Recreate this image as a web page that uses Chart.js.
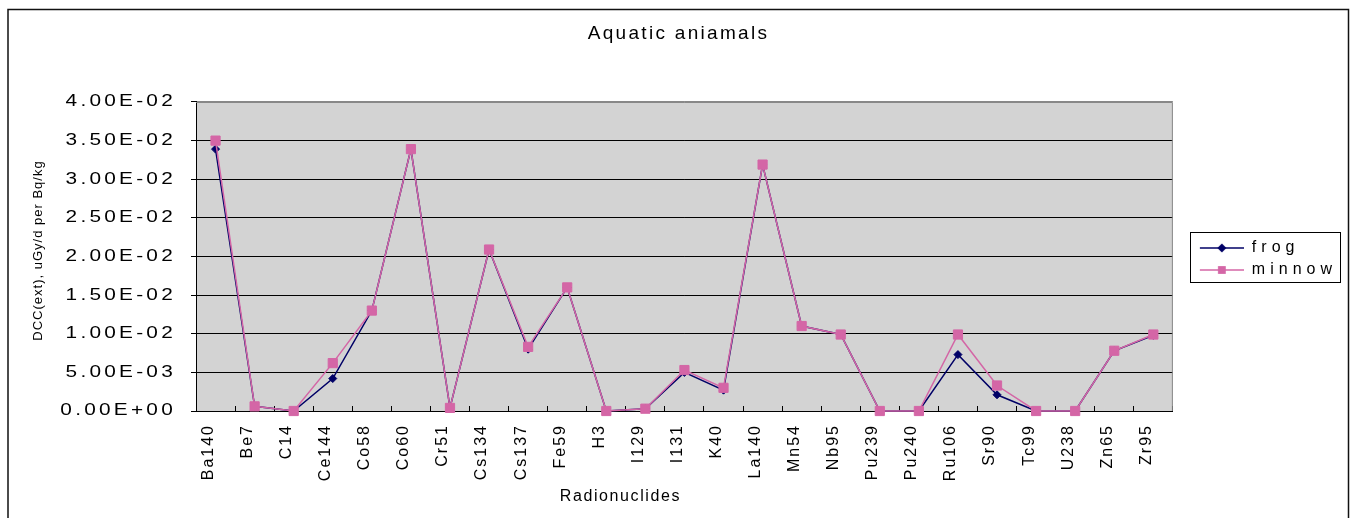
<!DOCTYPE html>
<html>
<head>
<meta charset="utf-8">
<script src="https://cdn.jsdelivr.net/npm/chart.js@4.4.1/dist/chart.umd.min.js"></script>
<style>
  html, body { margin: 0; padding: 0; background: #fff; }
</style>
</head>
<body>
<canvas id="chart" width="1352" height="518"></canvas>
<script>
const nuclides = ['Ba140', 'Be7', 'C14', 'Ce144', 'Co58', 'Co60', 'Cr51', 'Cs134', 'Cs137', 'Fe59',
  'H3', 'I129', 'I131', 'K40', 'La140', 'Mn54', 'Nb95', 'Pu239', 'Pu240', 'Ru106',
  'Sr90', 'Tc99', 'U238', 'Zn65', 'Zr95'];
const frog = [0.0339, 0.0006, 0, 0.0042, 0.013, 0.0339, 0.0004, 0.0209, 0.008, 0.016,
  0, 0.0003, 0.005, 0.0027, 0.0319, 0.011, 0.0099, 0, 0, 0.0073,
  0.0021, 0, 0, 0.0078, 0.0098];
const minnow = [0.035, 0.0006, 0, 0.0062, 0.013, 0.0339, 0.0004, 0.0209, 0.0083, 0.016,
  0, 0.0003, 0.0053, 0.003, 0.0319, 0.011, 0.0099, 0, 0, 0.0099,
  0.0033, 0, 0, 0.0078, 0.0099];
const yMax = 0.04;
const yStep = 0.005;

const frogColor = '#000066';
const minnowColor = '#d466a6';

Chart.defaults.font.family = "'Liberation Sans', Arial, sans-serif";
Chart.defaults.color = '#000';

// "4.00E-02" style labels
function sci(v) {
  if (Math.abs(v) < 1e-12) return '0.00E+00';
  const [m, e] = v.toExponential(2).split('e');
  const n = parseInt(e, 10);
  return m.toUpperCase() + 'E' + (n < 0 ? '-' : '+') + String(Math.abs(n)).padStart(2, '0');
}

// legend sample: a short line with the marker on it
function legendSample(color, style, radius) {
  const c = document.createElement('canvas');
  c.width = 65; c.height = 16;
  const g = c.getContext('2d');
  g.strokeStyle = color;
  g.lineWidth = 1.5;
  g.beginPath(); g.moveTo(21, 8); g.lineTo(65, 8); g.stroke();
  g.fillStyle = color;
  Chart.helpers.drawPoint(g, { pointStyle: style, radius: radius, borderWidth: 0, rotation: 0 }, 43, 8);
  return c;
}

// wider text (spacing, optional horizontal stretch around ax, optional shift) for one method
function styleText(obj, name, o) {
  if (!obj || obj['_styled_' + name]) return;
  const orig = obj[name];
  obj[name] = function () {
    const ctx = this.ctx;
    ctx.save();
    ctx.letterSpacing = (o.spacing || 0) + 'px';
    ctx.translate(o.dx || 0, o.dy || 0);
    if (o.sx) {
      ctx.translate(o.ax, 0);
      ctx.scale(o.sx, 1);
      ctx.translate(-o.ax, 0);
    }
    const r = orig.apply(this, arguments);
    ctx.restore();
    return r;
  };
  obj['_styled_' + name] = true;
}

const legendText = { spacing: 5 };

const excelLook = {
  id: 'excelLook',
  beforeLayout(chart) {
    styleText(chart.legend, 'fit', legendText);
  },
  beforeDraw(chart) {
    const { ctx, chartArea: a } = chart;
    ctx.save();
    ctx.fillStyle = '#d3d3d3';
    ctx.fillRect(a.left, a.top, a.right - a.left, a.bottom - a.top);
    ctx.restore();
    styleText(chart.titleBlock, 'draw', { spacing: 2.3, dx: 5 });
    styleText(chart.legend, 'draw', legendText);
    styleText(chart.scales.y, 'drawLabels', { spacing: 2.5, sx: 1.3, ax: 176 });
    styleText(chart.scales.y, 'drawTitle', { spacing: 1, dy: -6 });
    styleText(chart.scales.x, 'drawLabels', { spacing: 2 });
    styleText(chart.scales.x, 'drawTitle', { spacing: 1.6, dx: -64 });
  },
  beforeDatasetsDraw(chart) {
    const { ctx, chartArea: a } = chart;
    ctx.save();
    ctx.strokeStyle = '#888';
    ctx.lineWidth = 1;
    ctx.beginPath();
    ctx.moveTo(a.left, a.top + 0.5);
    ctx.lineTo(a.right - 0.5, a.top + 0.5);
    ctx.lineTo(a.right - 0.5, a.bottom);
    ctx.stroke();
    ctx.restore();
  },
  afterDraw(chart) {
    const { ctx, legend, chartArea: a } = chart;
    ctx.save();
    ctx.strokeStyle = '#000';
    ctx.lineWidth = 1;
    const hb = legend.legendHitBoxes;
    const first = hb[0], last = hb[hb.length - 1];
    const x0 = Math.round(a.right + 17) + 0.5;
    const y0 = Math.round(first.top - 8) + 0.5;
    const y1 = Math.round(last.top + last.height + 4) + 0.5;
    ctx.strokeRect(x0, y0, 150, y1 - y0);
    ctx.lineWidth = 1.5;
    ctx.strokeStyle = '#111';
    ctx.strokeRect(8, 9.5, 1340.5, 530);
    ctx.restore();
  }
};

new Chart(document.getElementById('chart'), {
  type: 'line',
  data: {
    labels: nuclides,
    datasets: [{
      label: 'frog',
      data: frog,
      borderColor: frogColor,
      backgroundColor: frogColor,
      borderWidth: 1.5,
      pointStyle: 'rectRot',
      pointRadius: 4,
      pointBorderWidth: 1,
      tension: 0,
      clip: false,
      order: 2
    }, {
      label: 'minnow',
      data: minnow,
      borderColor: minnowColor,
      backgroundColor: minnowColor,
      borderWidth: 1.5,
      pointStyle: 'rect',
      pointRadius: 6.5,
      pointBorderWidth: 1,
      tension: 0,
      clip: false,
      order: 1
    }]
  },
  plugins: [excelLook],
  options: {
    responsive: false,
    animation: false,
    devicePixelRatio: 1,
    layout: { padding: { left: 0, right: 5, top: 0, bottom: 0 } },
    plugins: {
      tooltip: { enabled: false },
      title: {
        display: true,
        text: 'Aquatic aniamals',
        color: '#000',
        font: { size: 19, weight: 'normal', lineHeight: 1.2 },
        padding: { top: 22.4, bottom: 56.8 }
      },
      legend: {
        position: 'right',
        align: 'center',
        labels: {
          usePointStyle: true,
          pointStyleWidth: 65,
          color: '#000',
          font: { size: 16 },
          padding: 6,
          generateLabels(chart) {
            return chart.data.datasets.map((ds, i) => ({
              text: ds.label,
              pointStyle: legendSample(ds.borderColor, ds.pointStyle, ds.pointStyle === 'rect' ? 5.5 : 4.5),
              fillStyle: ds.borderColor,
              strokeStyle: ds.borderColor,
              lineWidth: 0,
              hidden: false,
              datasetIndex: i,
              fontColor: '#000'
            }));
          }
        }
      }
    },
    scales: {
      x: {
        offset: true,
        grid: { offset: true, drawOnChartArea: false, color: '#000', tickLength: -5 },
        border: { color: '#000', width: 1 },
        ticks: {
          autoSkip: false, minRotation: 90, maxRotation: 90,
          padding: 18, labelOffset: -7, color: '#000', font: { size: 16 }
        },
        title: {
          display: true, text: 'Radionuclides', color: '#000',
          font: { size: 16, lineHeight: 1.2 }, padding: 11.4
        },
        afterFit(s) { s.height = 107; }
      },
      y: {
        min: 0,
        max: yMax,
        ticks: {
          stepSize: yStep, color: '#000', padding: 15,
          font: { size: 16 }, callback: v => sci(v)
        },
        grid: {
          color: c => (c.tick && c.tick.value > yMax - 1e-9) ? '#888' : '#000',
          tickColor: '#000', tickLength: 5, lineWidth: 1
        },
        border: { color: '#000', width: 1 },
        title: {
          display: true, text: 'DCC(ext), uGy/d per Bq/kg', color: '#000',
          font: { size: 13, lineHeight: 1.2 }, padding: 30.2
        },
        afterFit(s) { s.width = 196; }
      }
    }
  }
});
</script>
</body>
</html>
